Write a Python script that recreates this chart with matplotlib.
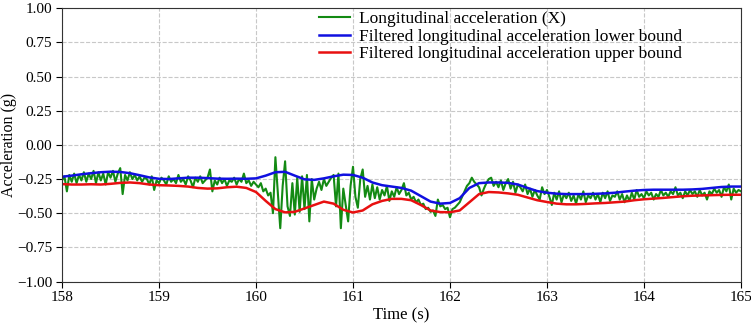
import numpy as np
import matplotlib
matplotlib.use("Agg")
import matplotlib.pyplot as plt

plt.rcParams['font.family'] = ['Liberation Serif', 'DejaVu Serif']

# raw signal, sampled every 0.025 s from 158 to 165 s
t_raw = np.linspace(158, 165, 281)
acc_x = [
    -0.26, -0.23, -0.34, -0.22, -0.27, -0.21, -0.28, -0.22, -0.26, -0.20,
    -0.27, -0.21, -0.25, -0.19, -0.28, -0.20, -0.26, -0.21, -0.29, -0.20,
    -0.24, -0.19, -0.27, -0.21, -0.17, -0.36, -0.22, -0.26, -0.20, -0.25,
    -0.22, -0.26, -0.23, -0.27, -0.24, -0.25, -0.29, -0.23, -0.33, -0.26,
    -0.28, -0.24, -0.26, -0.29, -0.23, -0.27, -0.25, -0.28, -0.22, -0.27,
    -0.25, -0.29, -0.23, -0.26, -0.31, -0.24, -0.27, -0.23, -0.28, -0.26,
    -0.24, -0.18, -0.34, -0.26, -0.29, -0.24, -0.28, -0.25, -0.30, -0.26,
    -0.27, -0.24, -0.29, -0.25, -0.27, -0.21, -0.28, -0.26, -0.30, -0.27,
    -0.29, -0.31, -0.28, -0.34, -0.32, -0.37, -0.35, -0.50, -0.09, -0.35,
    -0.61, -0.30, -0.12, -0.45, -0.52, -0.28, -0.51, -0.24, -0.49, -0.23,
    -0.47, -0.22, -0.56, -0.25, -0.40, -0.32, -0.27, -0.33, -0.25, -0.30,
    -0.27, -0.24, -0.22, -0.45, -0.21, -0.61, -0.32, -0.44, -0.56, -0.30,
    -0.16, -0.38, -0.46, -0.25, -0.18, -0.38, -0.30, -0.40, -0.29, -0.39,
    -0.31, -0.40, -0.33, -0.37, -0.30, -0.41, -0.34, -0.38, -0.31, -0.36,
    -0.33, -0.28, -0.37, -0.35, -0.40, -0.38, -0.42, -0.40, -0.44, -0.43,
    -0.47, -0.46, -0.49, -0.48, -0.52, -0.40, -0.45, -0.44, -0.47, -0.46,
    -0.53, -0.47, -0.46, -0.44, -0.42, -0.38, -0.34, -0.30, -0.28, -0.24,
    -0.27, -0.29, -0.31, -0.37, -0.32, -0.28, -0.25, -0.24, -0.30, -0.27,
    -0.31, -0.26, -0.33, -0.28, -0.25, -0.32, -0.27, -0.35, -0.29, -0.31,
    -0.34, -0.29, -0.36, -0.32, -0.38, -0.33, -0.37, -0.40, -0.31, -0.36,
    -0.33, -0.38, -0.44, -0.35, -0.40, -0.34, -0.42, -0.36, -0.39, -0.35,
    -0.41, -0.37, -0.43, -0.36, -0.40, -0.34, -0.42, -0.37, -0.39, -0.35,
    -0.40, -0.36, -0.42, -0.35, -0.39, -0.34, -0.41, -0.37, -0.38, -0.34,
    -0.40, -0.36, -0.42, -0.37, -0.41, -0.35, -0.40, -0.33, -0.38, -0.36,
    -0.39, -0.34, -0.37, -0.35, -0.40, -0.36, -0.38, -0.33, -0.37, -0.35,
    -0.38, -0.34, -0.36, -0.31, -0.37, -0.35, -0.39, -0.34, -0.37, -0.33,
    -0.36, -0.34, -0.38, -0.33, -0.37, -0.35, -0.40, -0.34, -0.36, -0.32,
    -0.35, -0.33, -0.38, -0.31, -0.34, -0.29, -0.40, -0.32, -0.35, -0.33,
    -0.34,
]

# filtered bounds, every 0.1 s
t_filt = np.linspace(158, 165, 71)
lower_bound = [
    -0.233, -0.225, -0.215, -0.207, -0.200, -0.196, -0.198, -0.207, -0.222, -0.238,
    -0.248, -0.250, -0.245, -0.240, -0.240, -0.243, -0.247, -0.248, -0.247, -0.248,
    -0.245, -0.225, -0.200, -0.197, -0.225, -0.252, -0.256, -0.245, -0.230, -0.218,
    -0.220, -0.240, -0.275, -0.295, -0.305, -0.315, -0.335, -0.375, -0.415, -0.430,
    -0.425, -0.390, -0.315, -0.280, -0.275, -0.275, -0.278, -0.290, -0.315, -0.338,
    -0.350, -0.357, -0.360, -0.360, -0.360, -0.358, -0.355, -0.350, -0.342, -0.335,
    -0.330, -0.328, -0.328, -0.328, -0.328, -0.326, -0.322, -0.315, -0.308, -0.305,
    -0.305,
]
upper_bound = [
    -0.287, -0.290, -0.290, -0.288, -0.290, -0.285, -0.278, -0.275, -0.280, -0.290,
    -0.295, -0.297, -0.300, -0.305, -0.315, -0.320, -0.318, -0.310, -0.306, -0.315,
    -0.345, -0.410, -0.470, -0.494, -0.490, -0.465, -0.440, -0.415, -0.430, -0.475,
    -0.495, -0.480, -0.435, -0.410, -0.395, -0.395, -0.405, -0.440, -0.480, -0.492,
    -0.493, -0.480, -0.420, -0.360, -0.345, -0.348, -0.355, -0.365, -0.385, -0.405,
    -0.418, -0.430, -0.435, -0.435, -0.432, -0.428, -0.425, -0.420, -0.415, -0.405,
    -0.398, -0.393, -0.388, -0.382, -0.376, -0.372, -0.370, -0.368, -0.366, -0.365,
    -0.365,
]

fig = plt.figure(figsize=(7.51, 3.26), dpi=100)
ax = fig.add_axes([0.0826, 0.1365, 0.904, 0.838])

ax.plot(t_raw, acc_x, color='#138a13', linewidth=1.5, label='Longitudinal acceleration (X)')
ax.plot(t_filt, lower_bound, color='#1010e0', linewidth=1.8,
        label='Filtered longitudinal acceleration lower bound')
ax.plot(t_filt, upper_bound, color='#e81010', linewidth=1.8,
        label='Filtered longitudinal acceleration upper bound')

ax.set_xlim(158, 165)
ax.set_ylim(-1, 1)
yt = np.arange(-1, 1.01, 0.25)
ax.set_yticks(yt)
ax.set_yticklabels(['%.2f' % v if v >= 0 else '\u2212%.2f' % -v for v in yt])
ax.grid(True, linestyle='--', color='#c8c8c8', linewidth=0.8)
ax.tick_params(labelsize=11, length=4, pad=3)
for s in ax.spines.values():
    s.set_color('#333333')

ax.set_xlabel('Time (s)', fontsize=12, labelpad=2)
ax.set_ylabel('Acceleration (g)', fontsize=11.5)
ax.yaxis.set_label_coords(-0.066, 0.5)

ax.legend(loc='upper left', bbox_to_anchor=(0.375, 1.0), frameon=False, fontsize=12.5,
          labelspacing=0.08, handlelength=1.75, handletextpad=0.55,
          borderpad=0.15, borderaxespad=0.0)

fig.savefig('out.png', dpi=100)
